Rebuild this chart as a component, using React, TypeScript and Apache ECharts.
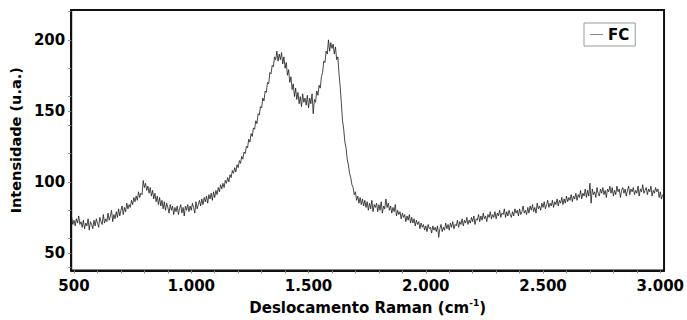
import React, { useEffect, useRef } from "react";
import * as echarts from "echarts";

// Raman shift sampling (cm-1)
const shiftStart = 490;
const shiftStep = 5;

// Intensity (u.a.), one value per 5 cm-1 from 490 to 3010
const intensity = [
  75, 70, 73, 69, 74, 71, 76, 70, 72, 68,
  73, 67, 71, 69, 74, 66, 72, 70, 67, 73,
  69, 74, 71, 68, 75, 72, 70, 77, 71, 74,
  72, 78, 73, 76, 80, 72, 77, 74, 79, 75,
  81, 76, 80, 83, 77, 82, 79, 85, 81, 84,
  82, 87, 84, 89, 86, 90, 87, 93, 89, 92,
  91, 101, 96, 99, 94, 97, 92, 96, 90, 94,
  88, 92, 86, 90, 84, 89, 83, 87, 81, 86,
  80, 85, 82, 78, 84, 80, 83, 77, 82, 79,
  83, 77, 81, 84, 78, 82, 76, 83, 80, 84,
  79, 83, 80, 85, 82, 78, 86, 81, 84, 87,
  83, 88, 84, 89, 86, 90, 85, 91, 88, 92,
  87, 93, 89, 94, 91, 96, 93, 98, 95, 99,
  96, 101, 99, 103, 100, 105, 103, 108, 106, 110,
  107, 112, 110, 115, 113, 118, 116, 121, 120, 125,
  124, 130, 128, 134, 132, 138, 137, 143, 141, 148,
  147, 153, 152, 159, 157, 164, 163, 170, 169, 177,
  176, 182, 181, 188, 186, 192, 185, 190, 186, 191,
  183, 188, 180, 184, 175, 179, 170, 174, 165, 169,
  160, 166, 158, 163, 155, 160, 153, 162, 156, 159,
  154, 161, 152, 159, 155, 162, 148, 158, 156, 164,
  161, 168, 166, 174, 177, 185, 184, 192, 190, 200,
  192, 198, 194, 197, 190, 195, 186, 188, 176, 167,
  155, 143, 137, 128, 124, 116, 112, 106, 103, 98,
  96, 91, 93, 87, 90, 85, 89, 84, 88, 83,
  87, 82, 86, 80, 85, 81, 87, 79, 84, 82,
  85, 79, 84, 80, 86, 78, 83, 81, 88, 82,
  85, 80, 83, 78, 82, 79, 84, 76, 80, 77,
  79, 74, 78, 75, 77, 72, 76, 73, 77, 71,
  75, 71, 74, 69, 73, 70, 72, 67, 71, 68,
  70, 66, 69, 65, 70, 67, 68, 64, 69, 66,
  68, 65, 69, 61, 67, 70, 65, 68, 66, 71,
  67, 70, 66, 71, 68, 72, 67, 70, 69, 73,
  68, 72, 70, 74, 69, 73, 71, 75, 70, 73,
  71, 75, 72, 76, 70, 74, 73, 77, 72, 76,
  73, 78, 74, 76, 72, 77, 75, 79, 74, 77,
  75, 79, 74, 78, 76, 80, 75, 78, 77, 81,
  75, 79, 76, 80, 77, 75, 79, 76, 81, 78,
  80, 76, 81, 77, 79, 83, 78, 80, 77, 82,
  78, 83, 80, 84, 79, 82, 78, 85, 81, 83,
  80, 85, 82, 86, 81, 84, 87, 82, 85, 83,
  87, 82, 86, 84, 88, 83, 87, 85, 89, 84,
  88, 85, 90, 86, 89, 87, 91, 86, 90, 88,
  92, 87, 91, 89, 94, 88, 92, 90, 95, 89,
  94, 90, 99, 85, 95, 91, 93, 89, 96, 92,
  90, 95, 92, 96, 91, 94, 89, 95, 93, 97,
  92, 96, 90, 94, 91, 97, 93, 95, 89, 94,
  96, 92, 95, 90, 94, 97, 91, 95, 93, 96,
  91, 94, 92, 97, 90, 95, 93, 98, 92, 94,
  96, 91, 95, 93, 97, 90, 94, 92, 96, 93,
  95, 89, 93, 88, 91,
];

const xLabelValues = [500, 1000, 1500, 2000, 2500, 3000];
const xTickValues = [
  500, 600, 700, 800, 900, 1000, 1100, 1200, 1300, 1400, 1500, 1600, 1700,
  1800, 1900, 2000, 2100, 2200, 2300, 2400, 2500, 2600, 2700, 2800, 2900, 3000,
];
const yLabelValues = [50, 100, 150, 200];
const yTickValues = [40, 50, 60, 80, 100, 120, 140, 150, 160, 180, 200, 220];
const seriesName = "FC";

const FONT = "'DejaVu Sans', Verdana, sans-serif";

function fmtThousands(v: number): string {
  if (v >= 1000) {
    const k = Math.floor(v / 1000);
    const r = Math.round(v % 1000);
    return `${k}.${String(r).padStart(3, "0")}`;
  }
  return String(v);
}

export default function App() {
  const ref = useRef<HTMLDivElement>(null);
  useEffect(() => {
    if (!ref.current) return;
    const chart = echarts.init(ref.current, undefined, { renderer: "svg" });
    const data = intensity.map((v, i) => [shiftStart + i * shiftStep, v]);
    chart.setOption({
      animation: false,
      backgroundColor: "#ffffff",
      textStyle: { fontFamily: FONT },
      grid: {
        left: 69,
        right: 20,
        top: 10,
        bottom: 49,
        show: true,
        borderColor: "#111",
        borderWidth: 2,
        backgroundColor: "transparent",
      },
      legend: {
        left: 584,
        top: 23,
        padding: [4, 6],
        borderColor: "#999",
        borderWidth: 1,
        backgroundColor: "#fff",
        itemWidth: 13,
        itemHeight: 1,
        itemGap: 4,
        textStyle: { fontFamily: FONT, fontWeight: "bold", fontSize: 15, color: "#000" },
        data: [{ name: seriesName, icon: "rect", itemStyle: { color: "#888" } }],
      },
      xAxis: {
        type: "value",
        min: 488,
        max: 3016,
        name: "{b|Deslocamento Raman (cm}{s|-1}{b|)}",
        nameLocation: "middle",
        nameGap: 28,
        nameTextStyle: {
          rich: {
            b: { fontFamily: FONT, fontWeight: "bold", fontSize: 15, color: "#000", lineHeight: 18 },
            s: { fontFamily: FONT, fontWeight: "bold", fontSize: 9, color: "#000", lineHeight: 18, verticalAlign: "top", padding: [0, 0, 6, 0] },
          },
        },
        axisLine: { show: true, onZero: false, lineStyle: { color: "#111", width: 2 } },
        axisTick: { show: true, customValues: xTickValues, length: 3, lineStyle: { color: "#888", width: 1 } },
        axisLabel: {
          customValues: xLabelValues,
          formatter: (v: number) => fmtThousands(v),
          fontFamily: FONT,
          fontWeight: "bold",
          fontSize: 15,
          color: "#000",
          margin: 8,
        },
        splitLine: { show: false },
      },
      yAxis: {
        type: "value",
        min: 37.6,
        max: 221,
        name: "Intensidade (u.a.)",
        nameLocation: "middle",
        nameGap: 40,
        nameTextStyle: { fontFamily: FONT, fontWeight: "bold", fontSize: 14.5, color: "#000" },
        axisLine: { show: true, onZero: false, lineStyle: { color: "#111", width: 2 } },
        axisTick: { show: true, customValues: yTickValues, length: 3, lineStyle: { color: "#888", width: 1 } },
        axisLabel: {
          customValues: yLabelValues,
          fontFamily: FONT,
          fontWeight: "bold",
          fontSize: 15,
          color: "#000",
          margin: 6,
        },
        splitLine: { show: false },
      },
      series: [
        {
          name: seriesName,
          type: "line",
          data,
          showSymbol: false,
          symbol: "none",
          silent: true,
          lineStyle: { color: "#1a1a1a", width: 0.8 },
        },
      ],
    });
    return () => chart.dispose();
  }, []);
  return (
    <div
      ref={ref}
      style={{ position: "absolute", left: 0, top: 0, width: 687, height: 320, background: "#fff" }}
    />
  );
}
